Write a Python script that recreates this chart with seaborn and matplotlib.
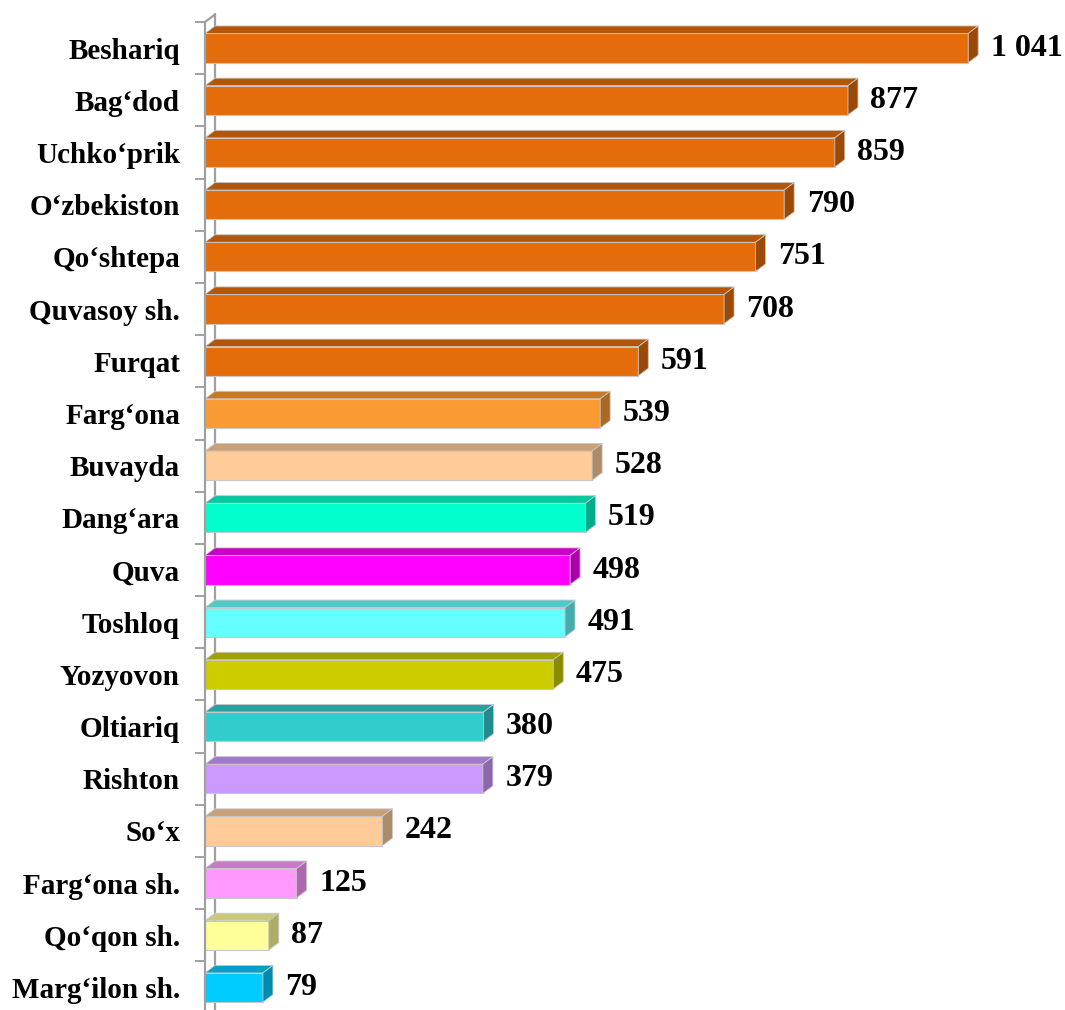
import matplotlib
matplotlib.use("Agg")
import numpy as np
import pandas as pd
import seaborn as sns
from matplotlib import pyplot as plt
from matplotlib.patches import Polygon
from matplotlib.colors import to_rgb

districts = [
    "Beshariq", "Bag‘dod", "Uchko‘prik", "O‘zbekiston", "Qo‘shtepa",
    "Quvasoy sh.", "Furqat", "Farg‘ona", "Buvayda", "Dang‘ara", "Quva",
    "Toshloq", "Yozyovon", "Oltiariq", "Rishton", "So‘x", "Farg‘ona sh.",
    "Qo‘qon sh.", "Marg‘ilon sh.",
]
counts = [1041, 877, 859, 790, 751, 708, 591, 539, 528, 519, 498,
          491, 475, 380, 379, 242, 125, 87, 79]
bar_colors = [
    "#E46C0A", "#E46C0A", "#E46C0A", "#E46C0A", "#E46C0A", "#E46C0A",
    "#E46C0A", "#F99B32", "#FFCC99", "#00FFCC", "#FF00FF", "#66FFFF",
    "#CCCC00", "#33CCCC", "#CC99FF", "#FFCC99", "#FF99FF", "#FFFF99",
    "#00CCFF",
]

sns.set_style("white")
plt.rcParams["font.family"] = ["Liberation Serif", "DejaVu Serif"]

df = pd.DataFrame({"district": districts, "count": counts})

fig = plt.figure(figsize=(10.65, 10.10), dpi=100)
ax = fig.add_axes([205 / 1065, 0.0, 860 / 1065, 1 - 22 / 1010])

sns.barplot(data=df, y="district", x="count", hue="district",
            palette=bar_colors, saturation=1, legend=False, orient="h",
            width=0.56, edgecolor="#c8c8c8", linewidth=0.8, ax=ax, zorder=3)

ax.set_xlim(0, 1173)
ax.set_ylim(18.43, -0.5)

# depth of the fake 3d effect, in data units
dx = 10 / (860 / 1173)
dy = 7.5 / 52.0


def shade(c, f):
    r, g, b = to_rgb(c)
    return (r * f, g * f, b * f)


# back wall line + top slant
ax.plot([dx, dx], [-0.5 - dy, 18.6], color="#a0a0a0", lw=1.6,
        zorder=1, clip_on=False)
ax.plot([0, dx], [-0.5, -0.5 - dy], color="#a0a0a0", lw=1.6,
        zorder=1, clip_on=False)

for patch, col in zip(ax.patches[:len(counts)], bar_colors):
    x0, y0 = patch.get_x(), patch.get_y()
    w, h = patch.get_width(), patch.get_height()
    top = Polygon([(x0, y0), (x0 + w, y0), (x0 + w + dx, y0 - dy),
                   (x0 + dx, y0 - dy)], closed=True,
                  facecolor=shade(col, 0.79), edgecolor="#c8c8c8",
                  linewidth=0.6, zorder=3, clip_on=False)
    side = Polygon([(x0 + w, y0), (x0 + w + dx, y0 - dy),
                    (x0 + w + dx, y0 + h - dy), (x0 + w, y0 + h)],
                   closed=True, facecolor=shade(col, 0.68),
                   edgecolor="#c8c8c8", linewidth=0.6, zorder=3,
                   clip_on=False)
    ax.add_patch(top)
    ax.add_patch(side)

for i, v in enumerate(counts):
    ax.text(v + dx + 17, i, f"{v:,}".replace(",", " "), va="center",
            ha="left", fontsize=23, fontweight="bold", color="black",
            zorder=5, clip_on=False)

sns.despine(ax=ax, top=True, right=True, bottom=True, left=False)
ax.spines["left"].set_color("#a0a0a0")
ax.spines["left"].set_linewidth(1.6)
ax.spines["left"].set_zorder(4)

ax.set_xticks([])
ax.set_xlabel("")
ax.set_ylabel("")
ax.set_yticks(np.arange(-0.5, 18.5, 1.0), minor=True)
ax.tick_params(axis="y", which="minor", length=7, width=1.4,
               color="#a0a0a0", left=True)
ax.tick_params(axis="y", which="major", length=0, pad=18)
for lab in ax.get_yticklabels():
    lab.set_fontsize(21)
    lab.set_fontweight("bold")
    lab.set_color("black")

fig.savefig("out.png", dpi=100, facecolor="white")
